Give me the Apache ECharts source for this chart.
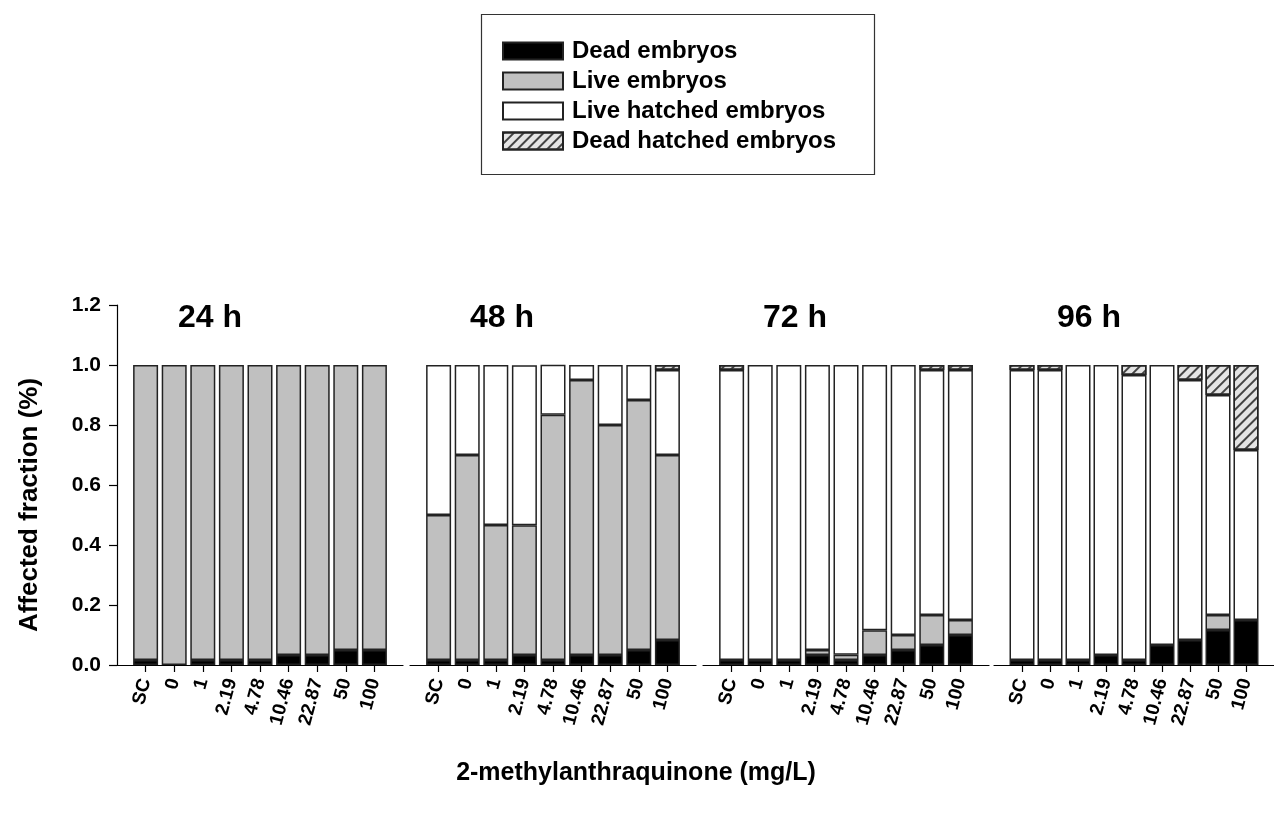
<!DOCTYPE html>
<html><head><meta charset="utf-8">
<script src="https://cdn.jsdelivr.net/npm/echarts@6/dist/echarts.min.js"></script>
<style>html,body{margin:0;padding:0;background:#fff}#c{width:1274px;height:814px}</style>
</head><body><div id="c"></div>
<script>
// ---- data ----
const categories = ['SC', '0', '1', '2.19', '4.78', '10.46', '22.87', '50', '100'];
const panelTitles = ['24 h', '48 h', '72 h', '96 h'];
const seriesNames = ['Dead embryos', 'Live embryos', 'Live hatched embryos', 'Dead hatched embryos'];
const yMin = 0, yMax = 1.2, yStep = 0.2;
const xTitle = '2-methylanthraquinone (mg/L)';
const yTitle = 'Affected fraction (%)';

// 24 h
const dead24        = [0.017, 0, 0.017, 0.017, 0.017, 0.033, 0.033, 0.05, 0.05];
const live24        = [0.983, 1, 0.983, 0.983, 0.983, 0.967, 0.967, 0.95, 0.95];
const liveHatched24 = [0, 0, 0, 0, 0, 0, 0, 0, 0];
const deadHatched24 = [0, 0, 0, 0, 0, 0, 0, 0, 0];
// 48 h
const dead48        = [0.017, 0.017, 0.017, 0.033, 0.017, 0.033, 0.033, 0.05, 0.083];
const live48        = [0.483, 0.683, 0.45, 0.433, 0.817, 0.917, 0.767, 0.833, 0.617];
const liveHatched48 = [0.5, 0.3, 0.533, 0.533, 0.167, 0.05, 0.2, 0.117, 0.283];
const deadHatched48 = [0, 0, 0, 0, 0, 0, 0, 0, 0.017];
// 72 h
const dead72        = [0.017, 0.017, 0.017, 0.033, 0.017, 0.033, 0.05, 0.067, 0.1];
const live72        = [0, 0, 0, 0.017, 0.017, 0.083, 0.05, 0.1, 0.05];
const liveHatched72 = [0.966, 0.983, 0.983, 0.95, 0.966, 0.884, 0.9, 0.816, 0.833];
const deadHatched72 = [0.017, 0, 0, 0, 0, 0, 0, 0.017, 0.017];
// 96 h
const dead96        = [0.017, 0.017, 0.017, 0.033, 0.017, 0.067, 0.083, 0.117, 0.15];
const live96        = [0, 0, 0, 0, 0, 0, 0, 0.05, 0];
const liveHatched96 = [0.966, 0.966, 0.983, 0.967, 0.95, 0.933, 0.867, 0.733, 0.567];
const deadHatched96 = [0.017, 0.017, 0, 0, 0.033, 0, 0.05, 0.1, 0.283];

const panels = [
  [dead24, live24, liveHatched24, deadHatched24],
  [dead48, live48, liveHatched48, deadHatched48],
  [dead72, live72, liveHatched72, deadHatched72],
  [dead96, live96, liveHatched96, deadHatched96]
];

// ---- styling ----
const FONT = '"Liberation Sans", Arial, sans-serif';
const gridLefts = [117, 410, 703, 994];
const gridWidth = 286;
const gridTop = 305, gridHeight = 360;
const titleLefts = [178, 470, 763, 1057];
const hatchDecal = {
  symbol: 'rect', symbolSize: 1,
  dashArrayX: [1, 0], dashArrayY: [1.3, 4.5],
  rotation: -Math.PI / 4, color: '#444'
};
const segStyles = [
  { color: '#000000', borderColor: '#222', borderWidth: 1.5 },
  { color: '#c0c0c0', borderColor: '#222', borderWidth: 1.5 },
  { color: '#ffffff', borderColor: '#222', borderWidth: 1.5 },
  { color: '#e4e4e4', borderColor: '#222', borderWidth: 1.5, decal: hatchDecal }
];

const axisCats = [' '].concat(categories, ['  ']);
const isReal = (v) => String(v).trim() !== '';

const grid = [], xAxis = [], yAxis = [], series = [], title = [];
panels.forEach((segs, p) => {
  grid.push({ left: gridLefts[p], top: gridTop, width: gridWidth, height: gridHeight, containLabel: false });
  xAxis.push({
    type: 'category', gridIndex: p, data: axisCats, boundaryGap: false,
    axisLine: { show: true, lineStyle: { color: '#000', width: 1.2 } },
    axisTick: { show: true, length: 7, inside: false, interval: (i, v) => isReal(v), lineStyle: { color: '#000', width: 1.2 } },
    axisLabel: {
      interval: (i, v) => isReal(v), rotate: 75, margin: 14,
      fontFamily: FONT, fontWeight: 'bold', fontSize: 19, color: '#000'
    },
    splitLine: { show: false }
  });
  yAxis.push({
    type: 'value', gridIndex: p, min: yMin, max: yMax, interval: yStep,
    show: p === 0,
    axisLine: { show: true, lineStyle: { color: '#000', width: 1.2 } },
    axisTick: { show: true, length: 8, inside: false, lineStyle: { color: '#000', width: 1.2 } },
    axisLabel: { formatter: (v) => v.toFixed(1), margin: 16, fontFamily: FONT, fontWeight: 'bold', fontSize: 21, color: '#000' },
    splitLine: { show: false }
  });
  title.push({
    text: panelTitles[p], left: titleLefts[p], top: 302,
    textStyle: { fontFamily: FONT, fontWeight: 'bold', fontSize: 32, color: '#000' },
    padding: 0
  });
  segs.forEach((arr, s) => {
    series.push({
      type: 'bar', name: seriesNames[s], xAxisIndex: p, yAxisIndex: p,
      stack: 'panel' + p, barWidth: 25,
      itemStyle: segStyles[s],
      emphasis: { disabled: true },
      data: ['-'].concat(arr.map(v => (v > 0 ? v : '-')), ['-'])
    });
  });
});

const option = {
  backgroundColor: '#fff',
  animation: false,
  title: title,
  grid: grid, xAxis: xAxis, yAxis: yAxis, series: series,
  legend: {
    orient: 'vertical', left: 497, top: 34,
    data: seriesNames, icon: 'rect', itemWidth: 60, itemHeight: 17, itemGap: 6,
    textStyle: { fontFamily: FONT, fontWeight: 'bold', fontSize: 24, color: '#000', lineHeight: 24, padding: [0, 0, 0, 4] },
    selectedMode: false
  },
  graphic: [
    { type: 'rect', left: 479, top: 12, shape: { width: 393, height: 160 }, style: { fill: 'none', stroke: '#333', lineWidth: 1.2 }, z: -1 },
    { type: 'text', x: 30, y: 505, rotation: Math.PI / 2,
      style: { text: yTitle, font: 'bold 26px ' + FONT, fill: '#000', align: 'center', verticalAlign: 'middle' } },
    { type: 'text', x: 636, y: 773,
      style: { text: xTitle, font: 'bold 25px ' + FONT, fill: '#000', align: 'center', verticalAlign: 'middle' } }
  ]
};
const chart = echarts.init(document.getElementById('c'));
chart.setOption(option);
</script>
</body></html>
